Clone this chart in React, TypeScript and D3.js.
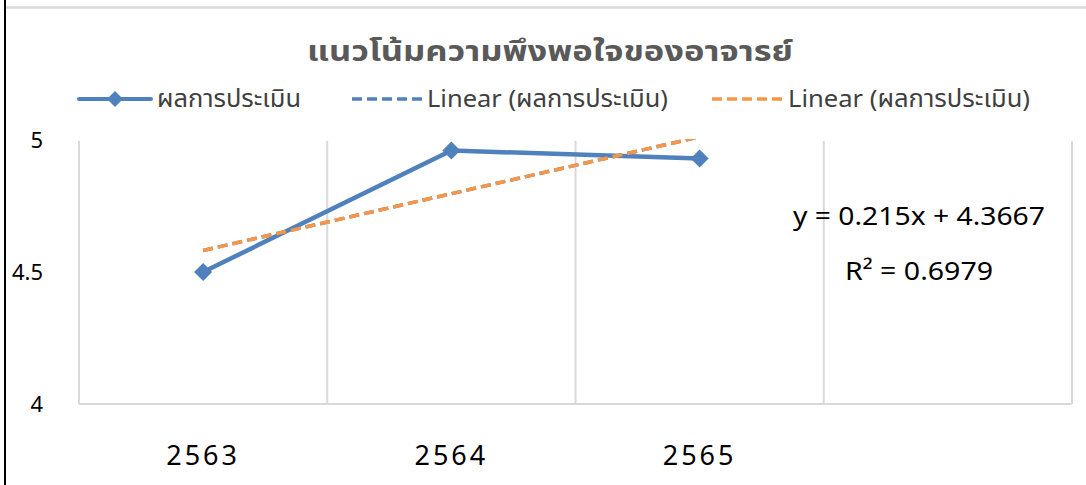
import React from "react";
import * as d3 from "d3";

const categories = ["2563", "2564", "2565", ""];
const values = [4.5, 4.96, 4.93];
const yTicks = [4, 4.5, 5];
const yTickLabels = ["4", "4.5", "5"];
const trendSlope = 0.215;
const trendIntercept = 4.3667;
const equationText = "y = 0.215x + 4.3667";
const r2Text = "R² = 0.6979";
const titleText = "แนวโน้มความพึงพอใจของอาจารย์";
const legendLabels = ["ผลการประเมิน", "Linear (ผลการประเมิน)", "Linear (ผลการประเมิน)"];

const W = 1086;
const H = 485;
const plot = { left: 79, right: 1072, top: 140, bottom: 404 };
const BLUE = "#4f81bd";
const ORANGE = "#f79646";
const GRID = "#d9d9d9";
const FONT = "'Noto Sans', 'Noto Sans Thai', 'DejaVu Sans', sans-serif";

export default function App() {
  const x = d3.scaleBand<string>().domain(categories).range([plot.left, plot.right]).padding(0);
  const y = d3.scaleLinear().domain([4, 5]).range([plot.bottom, plot.top]);
  const cx = (i: number) => (x(categories[i]) as number) + x.bandwidth() / 2;

  const line = d3
    .line<number>()
    .x((_, i) => cx(i))
    .y((d) => y(d));

  const trendPts: [number, number][] = [1, 3].map((k) => [cx(k - 1), y(trendIntercept + trendSlope * k)]);
  const trendPath = d3.line()(trendPts) as string;

  const diamond = (px: number, py: number, r: number) =>
    `M${px},${py - r}L${px + r},${py}L${px},${py + r}L${px - r},${py}Z`;

  const boundaries = categories.map((c) => x(c) as number).concat([plot.right]);

  const legendY = 99;

  return (
    <svg
      width={W}
      height={H}
      style={{ position: "absolute", left: 0, top: 0, background: "#fff" }}
      fontFamily={FONT}
    >
      <defs>
        <clipPath id="plotclip">
          <rect x={plot.left} y={plot.top - 1} width={plot.right - plot.left} height={plot.bottom - plot.top + 10} />
        </clipPath>
      </defs>
      {/* outer borders */}
      <line x1={6} x2={W} y1={7.5} y2={7.5} stroke={GRID} strokeWidth={2.5} />
      <line x1={5} x2={5} y1={0} y2={H} stroke="#000" strokeWidth={2} />

      {/* title */}
      <text
        x={307}
        y={61}
        fontSize={28}
        fontWeight="bold"
        fill="#595959"
        textLength={486}
        lengthAdjust="spacingAndGlyphs"
      >
        {titleText}
      </text>

      {/* legend */}
      <g>
        <line x1={79} x2={151} y1={legendY} y2={legendY} stroke={BLUE} strokeWidth={4} strokeLinecap="round" />
        <path d={diamond(115, legendY, 8)} fill={BLUE} />
        <text x={157} y={legendY + 8} fontSize={24} fill="#404040" textLength={144} lengthAdjust="spacingAndGlyphs">
          {legendLabels[0]}
        </text>
        <line x1={352} x2={422} y1={legendY} y2={legendY} stroke={BLUE} strokeWidth={3.5} strokeDasharray="10 5" />
        <text x={427} y={legendY + 8} fontSize={24} fill="#404040" textLength={241} lengthAdjust="spacingAndGlyphs">
          {legendLabels[1]}
        </text>
        <line x1={712} x2={782} y1={legendY} y2={legendY} stroke={ORANGE} strokeWidth={3.5} strokeDasharray="10 5" />
        <text x={788} y={legendY + 8} fontSize={24} fill="#404040" textLength={242} lengthAdjust="spacingAndGlyphs">
          {legendLabels[2]}
        </text>
      </g>

      {/* gridlines */}
      {boundaries.map((bx, i) => (
        <line key={i} x1={bx} x2={bx} y1={plot.top + 1} y2={plot.bottom} stroke={GRID} strokeWidth={2} />
      ))}
      <line x1={plot.left} x2={plot.right} y1={plot.bottom} y2={plot.bottom} stroke={GRID} strokeWidth={2} />

      {/* y labels */}
      {yTicks.map((t, i) => (
        <text key={t} x={43} y={y(t) + 8} textAnchor="end" fontSize={22} fill="#000">
          {yTickLabels[i]}
        </text>
      ))}

      {/* x labels */}
      {categories.map((c) =>
        c ? (
          <text key={c} x={(x(c) as number) + x.bandwidth() / 2} y={465} textAnchor="middle" fontSize={27} fill="#000" letterSpacing={3}>
            {c}
          </text>
        ) : null
      )}

      {/* series */}
      <path d={line(values) as string} fill="none" stroke={BLUE} strokeWidth={4.5} strokeLinejoin="round" />
      {values.map((v, i) => (
        <path key={i} d={diamond(cx(i), y(v), 9)} fill={BLUE} />
      ))}

      {/* trendlines */}
      <g clipPath="url(#plotclip)">
        <path d={trendPath} fill="none" stroke={BLUE} strokeWidth={3.5} strokeDasharray="10 5" />
        <path d={trendPath} fill="none" stroke={ORANGE} strokeWidth={3.5} strokeDasharray="10 5" />
      </g>

      {/* equation */}
      <text x={793} y={225} fontSize={26} fill="#000" textLength={252} lengthAdjust="spacingAndGlyphs">
        {equationText}
      </text>
      <text x={845} y={280} fontSize={26} fill="#000" textLength={148} lengthAdjust="spacingAndGlyphs">
        {r2Text}
      </text>
    </svg>
  );
}
